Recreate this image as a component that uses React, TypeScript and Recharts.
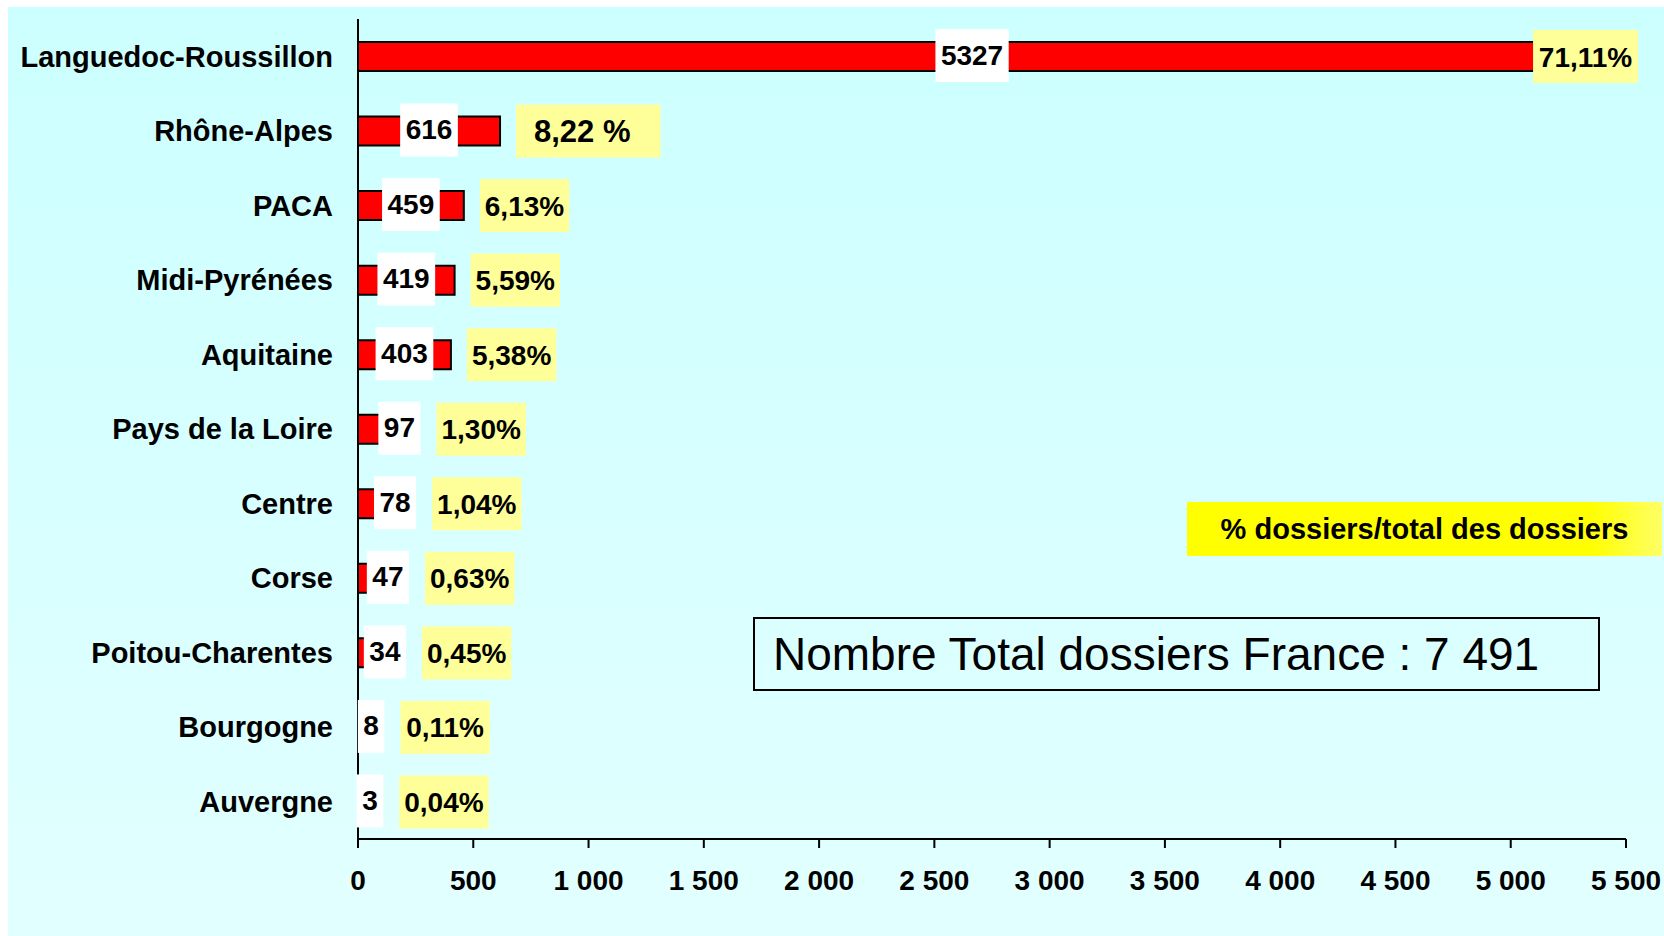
import { Bar, BarChart, LabelList, XAxis, YAxis } from "recharts";

const regions = [
  "Languedoc-Roussillon",
  "Rhône-Alpes",
  "PACA",
  "Midi-Pyrénées",
  "Aquitaine",
  "Pays de la Loire",
  "Centre",
  "Corse",
  "Poitou-Charentes",
  "Bourgogne",
  "Auvergne",
];
const dossiers = [5327, 616, 459, 419, 403, 97, 78, 47, 34, 8, 3];
const percentLabels = [
  "71,11%",
  "8,22 %",
  "6,13%",
  "5,59%",
  "5,38%",
  "1,30%",
  "1,04%",
  "0,63%",
  "0,45%",
  "0,11%",
  "0,04%",
];
const xTicks = [0, 500, 1000, 1500, 2000, 2500, 3000, 3500, 4000, 4500, 5000, 5500];

const data = regions.map((name, i) => ({ name, v: dossiers[i], i }));

const FONT = '"Liberation Sans", Arial, sans-serif';
const W = 1656;
const H = 929;
const PCT_RIGHT = 1630;

// rough Arial bold advance widths, enough for digits and percents
function textWidth(s: string, size: number) {
  let w = 0;
  for (const ch of s) {
    if (ch === "," || ch === " ") w += 0.278;
    else if (ch === "%") w += 0.889;
    else w += 0.556;
  }
  return w * size;
}

function fmt(v: number) {
  return String(v).replace(/\B(?=(\d{3})+(?!\d))/g, " ");
}

function BarLabels(props: any) {
  const vb = props.viewBox && props.viewBox.width !== undefined ? props.viewBox : props;
  const { x, y, width, height } = vb;
  const i = Number(props.value);
  const vs = String(dossiers[i]);
  const fs = 28;
  const bh = 53;
  const cy = y + height / 2;
  const barEnd = x + width;

  const vw = textWidth(vs, fs) + 11;
  const vx = width >= vw + 16 ? x + width / 2 - vw / 2 : barEnd - 2;

  const pct = percentLabels[i];
  const wide = pct.includes(" ");
  const pfs = wide ? 31 : 28;
  const pw = textWidth(pct, pfs) + (wide ? 48 : 10);
  const anchor = Math.max(barEnd, vx + vw);
  const px = Math.min(anchor + 16, PCT_RIGHT - pw);

  return (
    <g>
      <rect x={vx} y={cy - bh / 2 - 1} width={vw} height={bh} fill="#ffffff" />
      <text
        x={vx + vw / 2}
        y={cy - 2 + fs * 0.36}
        textAnchor="middle"
        fontFamily={FONT}
        fontWeight={700}
        fontSize={fs}
        fill="#000"
      >
        {vs}
      </text>
      <rect x={px} y={cy - bh / 2} width={pw} height={bh} fill="#ffff99" />
      <text
        x={wide ? px + 18 : px + pw / 2}
        y={cy + pfs * 0.36}
        textAnchor={wide ? "start" : "middle"}
        fontFamily={FONT}
        fontWeight={700}
        fontSize={pfs}
        fill="#000"
      >
        {pct}
      </text>
    </g>
  );
}

export default function App() {
  return (
    <div style={{ padding: "7px 0 0 8px" }}>
      <style>{"body{margin:0;overflow:hidden}"}</style>
      <div
        style={{
          position: "relative",
          width: W,
          height: H,
          background: "linear-gradient(#ccffff, #e2ffff)",
          fontFamily: FONT,
        }}
      >
        <BarChart
          width={W}
          height={H}
          data={data}
          layout="vertical"
          margin={{ top: 12, right: 38, bottom: 0, left: 0 }}
        >
          <XAxis
            type="number"
            domain={[0, 5500]}
            ticks={xTicks}
            interval={0}
            tickFormatter={fmt}
            height={97}
            tickSize={9}
            tickMargin={22}
            axisLine={{ stroke: "#000", strokeWidth: 2 }}
            tickLine={{ stroke: "#000", strokeWidth: 2 }}
            tick={{ fill: "#000", fontSize: 28, fontWeight: 700, fontFamily: FONT }}
          />
          <YAxis
            type="category"
            dataKey="name"
            width={350}
            tickSize={0}
            tickMargin={25}
            tickLine={false}
            interval={0}
            axisLine={{ stroke: "#000", strokeWidth: 2 }}
            tick={{ fill: "#000", fontSize: 29, fontWeight: 700, fontFamily: FONT }}
          />
          <Bar
            dataKey="v"
            fill="#ff0000"
            stroke="#000"
            strokeWidth={2}
            barSize={29}
            isAnimationActive={false}
          >
            <LabelList dataKey="i" content={BarLabels} />
          </Bar>
        </BarChart>
        <div
          style={{
            position: "absolute",
            left: 1179,
            top: 495,
            width: 475,
            height: 54,
            background: "linear-gradient(90deg, #ffff00 85%, #ffff66)",
            display: "flex",
            alignItems: "center",
            justifyContent: "center",
            fontWeight: 700,
            fontSize: 29,
            color: "#000",
          }}
        >
          % dossiers/total des dossiers
        </div>
        <div
          style={{
            position: "absolute",
            left: 745,
            top: 610,
            width: 847,
            height: 74,
            boxSizing: "border-box",
            border: "2px solid #000",
            display: "flex",
            alignItems: "center",
            paddingLeft: 18,
            fontSize: 46,
            color: "#000",
          }}
        >
          Nombre Total dossiers France : 7 491
        </div>
      </div>
    </div>
  );
}
